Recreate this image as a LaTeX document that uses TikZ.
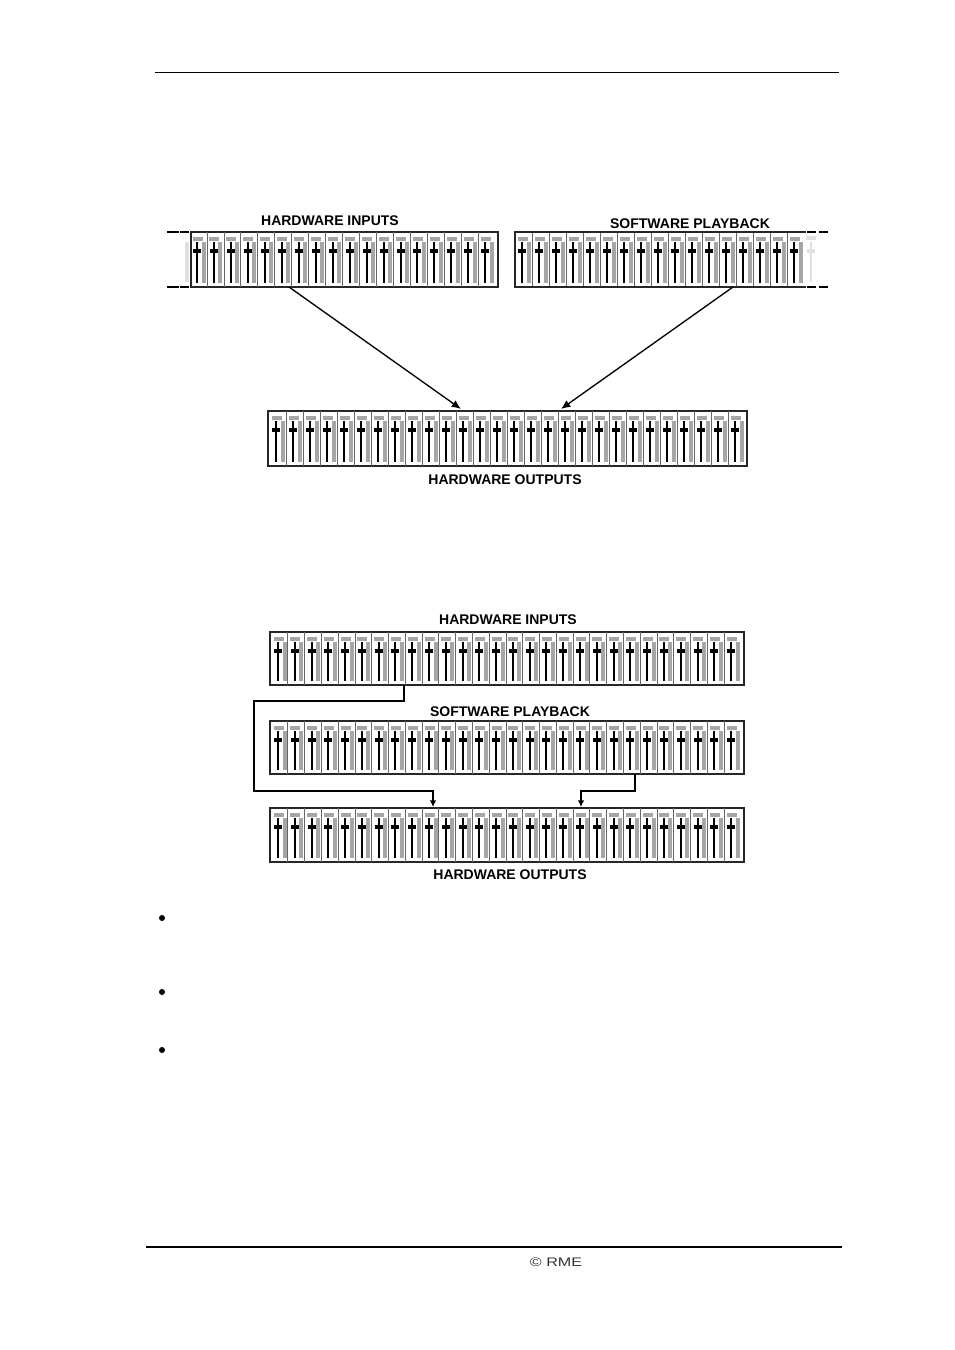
\documentclass[tikz,border=0pt]{standalone}
\usepackage{fontspec}
\setmainfont{Liberation Sans}
\newfontfamily\footfont[FakeStretch=1.3]{Liberation Sans}
\usetikzlibrary{fit, arrows.meta}

\tikzset{
	bankbox/.style={draw=black!85, line width=1.5pt},
	divider/.style={draw=black!60, line width=0.6pt},
	stem/.style={draw=black, line width=1.5pt},
	fadercap/.style={draw=black, line width=2.8pt},
	levelbar/.style={fill=black!35},
	ghost/.style={draw=black!12, line width=1pt},
	banklabel/.style={font=\bfseries\fontsize{10.5}{12}\selectfont, inner sep=0pt},
	rule/.style={draw=black, line width=0.7pt},
	item/.style={circle, fill=black, inner sep=0pt, minimum size=4.5pt},
	bigarrow/.style={arrows={-Latex[length=7pt, width=6pt]}, line width=1pt},
	smallarrow/.style={arrows={-Latex[length=5pt, width=5pt]}, line width=1pt}
}

% name, left, top, right, bottom, number of strips, pitch, first strip x, box style
\newcommand{\faderbank}[9]{
	\node [fit={(#2,#3) (#4,#5)}, inner sep=0pt, outer sep=0pt, #9] (#1) {};
	\foreach \i in {1,...,#6} {
		\pgfmathsetmacro{\sx}{#8+(\i-1)*#7}
		\ifnum\i>1 \draw [divider] (\sx-1,#3) -- (\sx-1,#5); \fi
		\fill [levelbar] (\sx+1.5,#3+5) rectangle (\sx+11.5,#3+9);
		\fill [levelbar] (\sx+10.5,#3+10) rectangle (\sx+14.5,#5-4);
		\draw [stem] (\sx+6,#3+10) -- (\sx+6,#5-4);
		\draw [fadercap] (\sx+2,#3+19) -- (\sx+10,#3+19);
	}
}

\begin{document}
\begin{tikzpicture}[x=0.75pt, y=-0.75pt]
	\useasboundingbox (0,0) rectangle (954,1350);

	\coordinate (headL) at (155, 72);
	\coordinate (headR) at (839, 72);
	\coordinate (footL) at (146, 1247);
	\coordinate (footR) at (842, 1247);
	\draw [rule] (headL) -- (headR);
	\draw [rule, line width=1.3pt] (footL) -- (footR);
	\node (rme) at (556, 1262) [text=black!80, font=\footfont\fontsize{9.3}{10}\selectfont, inner sep=0pt] {\textcopyright\ RME};

	% upper routing
	\faderbank{hwinA}{191}{232}{498}{287}{18}{16.96}{191}{bankbox}
	\faderbank{swplayA}{515}{232}{806}{287}{17}{17}{516}{}
	\faderbank{hwoutA}{268}{411}{747}{466}{28}{17}{270}{bankbox}
	\draw [bankbox] (swplayA.north east) -- (swplayA.north west) -- (swplayA.south west) -- (swplayA.south east);

	\draw [line width=1.5pt] (167, 232) -- (179, 232) (180, 232) -- (189, 232);
	\draw [line width=1.5pt] (167, 287) -- (179, 287) (180, 287) -- (189, 287);
	\draw [line width=1.5pt] (807, 232) -- (816, 232) (819, 232) -- (828, 232);
	\draw [line width=1.5pt] (807, 287) -- (816, 287) (819, 287) -- (828, 287);
	\draw [ghost, line width=3pt] (186.5, 242) -- (186.5, 282);
	\draw [ghost] (811, 242) -- (811, 282);
	\draw [ghost, line width=2.6pt] (807, 251) -- (815, 251);
	\draw [ghost, line width=3pt] (806, 238) -- (816, 238);

	\node (labelinA) at (330, 221) [banklabel] {HARDWARE INPUTS};
	\node (labelplayA) at (690, 224) [banklabel] {SOFTWARE PLAYBACK};
	\node (labeloutA) at (505, 480) [banklabel] {HARDWARE OUTPUTS};

	\coordinate (inAfrom) at (289, 287);
	\coordinate (inAto) at (461, 409);
	\coordinate (playAfrom) at (733, 287);
	\coordinate (playAto) at (561, 409);
	\draw [bigarrow] (inAfrom) -- (inAto);
	\draw [bigarrow] (playAfrom) -- (playAto);

	% lower routing
	\faderbank{hwinB}{270}{632}{744}{685}{28}{16.78}{272}{bankbox}
	\faderbank{swplayB}{270}{721}{744}{774}{28}{16.78}{272}{bankbox}
	\faderbank{hwoutB}{270}{808}{744}{862}{28}{16.78}{272}{bankbox}

	\node (labelinB) at (508, 620) [banklabel] {HARDWARE INPUTS};
	\node (labelplayB) at (510, 712) [banklabel] {SOFTWARE PLAYBACK};
	\node (labeloutB) at (510, 875) [banklabel] {HARDWARE OUTPUTS};

	\coordinate (inBfrom) at (404, 685);
	\coordinate (inBto) at (433, 807);
	\coordinate (playBfrom) at (635, 774);
	\coordinate (playBto) at (581, 807);
	\draw [smallarrow] (inBfrom) -- (404, 701) -- (254, 701) -- (254, 791) -- (433, 791) -- (inBto);
	\draw [smallarrow] (playBfrom) -- (635, 791) -- (581, 791) -- (playBto);

	% bullets
	\node (itemA) at (162, 918) [item] {};
	\node (itemB) at (162, 992) [item] {};
	\node (itemC) at (162, 1050) [item] {};
\end{tikzpicture}
\end{document}
